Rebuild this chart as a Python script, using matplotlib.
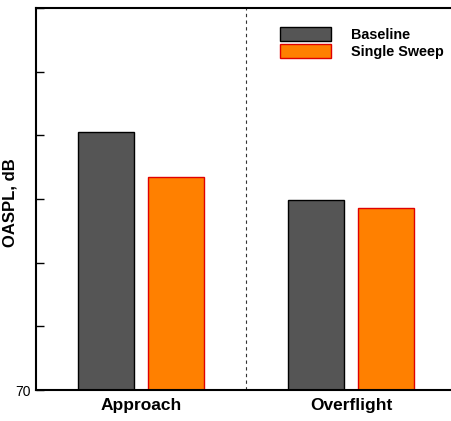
import numpy as np
import matplotlib.pyplot as plt

categories = ['Approach', 'Overflight']
baseline = [90.3, 84.9]
single_sweep = [86.7, 84.3]
series_names = ['Baseline', 'Single Sweep']

plt.rcParams['font.family'] = ['Liberation Sans', 'DejaVu Sans']

fig = plt.figure(figsize=(4.52, 4.21), dpi=100)
ax = fig.add_axes([36 / 452, 31 / 421, 420 / 452, 382 / 421])

x = np.arange(len(categories))
off = 0.167
w = 0.27
ax.bar(x - off, baseline, w, color='#555555', edgecolor='black',
       linewidth=1.0, label=series_names[0])
ax.bar(x + off, single_sweep, w, color='#FF8000', edgecolor='#E00000',
       linewidth=1.0, label=series_names[1])

# divider between the two flight conditions
ax.axvline(0.5, color='#333333', linestyle=(0, (3, 3)), linewidth=0.8)

ax.set_xlim(-0.5, 1.5)
ax.set_ylim(70, 100)
yt = np.arange(70, 101, 5)
ax.set_yticks(yt)
ax.set_yticklabels(['70'] + [''] * (len(yt) - 1), fontsize=10)
ax.tick_params(axis='y', direction='in', length=6, width=1)
ax.set_xticks(x)
ax.set_xticklabels(categories, fontsize=12.5, fontweight='bold')
ax.tick_params(axis='x', length=0, pad=6)
ax.set_ylabel('OASPL, dB', fontsize=12, fontweight='bold')
ax.yaxis.set_label_coords(-0.044, 0.49)

for s in ['left', 'top', 'bottom']:
    ax.spines[s].set_linewidth(1.5)
ax.spines['right'].set_visible(False)

ax.legend(loc='upper left', bbox_to_anchor=(244 / 420, 1 - 19 / 382),
          frameon=False, prop={'weight': 'bold', 'size': 10.4},
          handlelength=3.5, handleheight=1.1, handletextpad=1.4,
          labelspacing=0.15, borderaxespad=0, borderpad=0)

fig.savefig('out.png', dpi=100)
